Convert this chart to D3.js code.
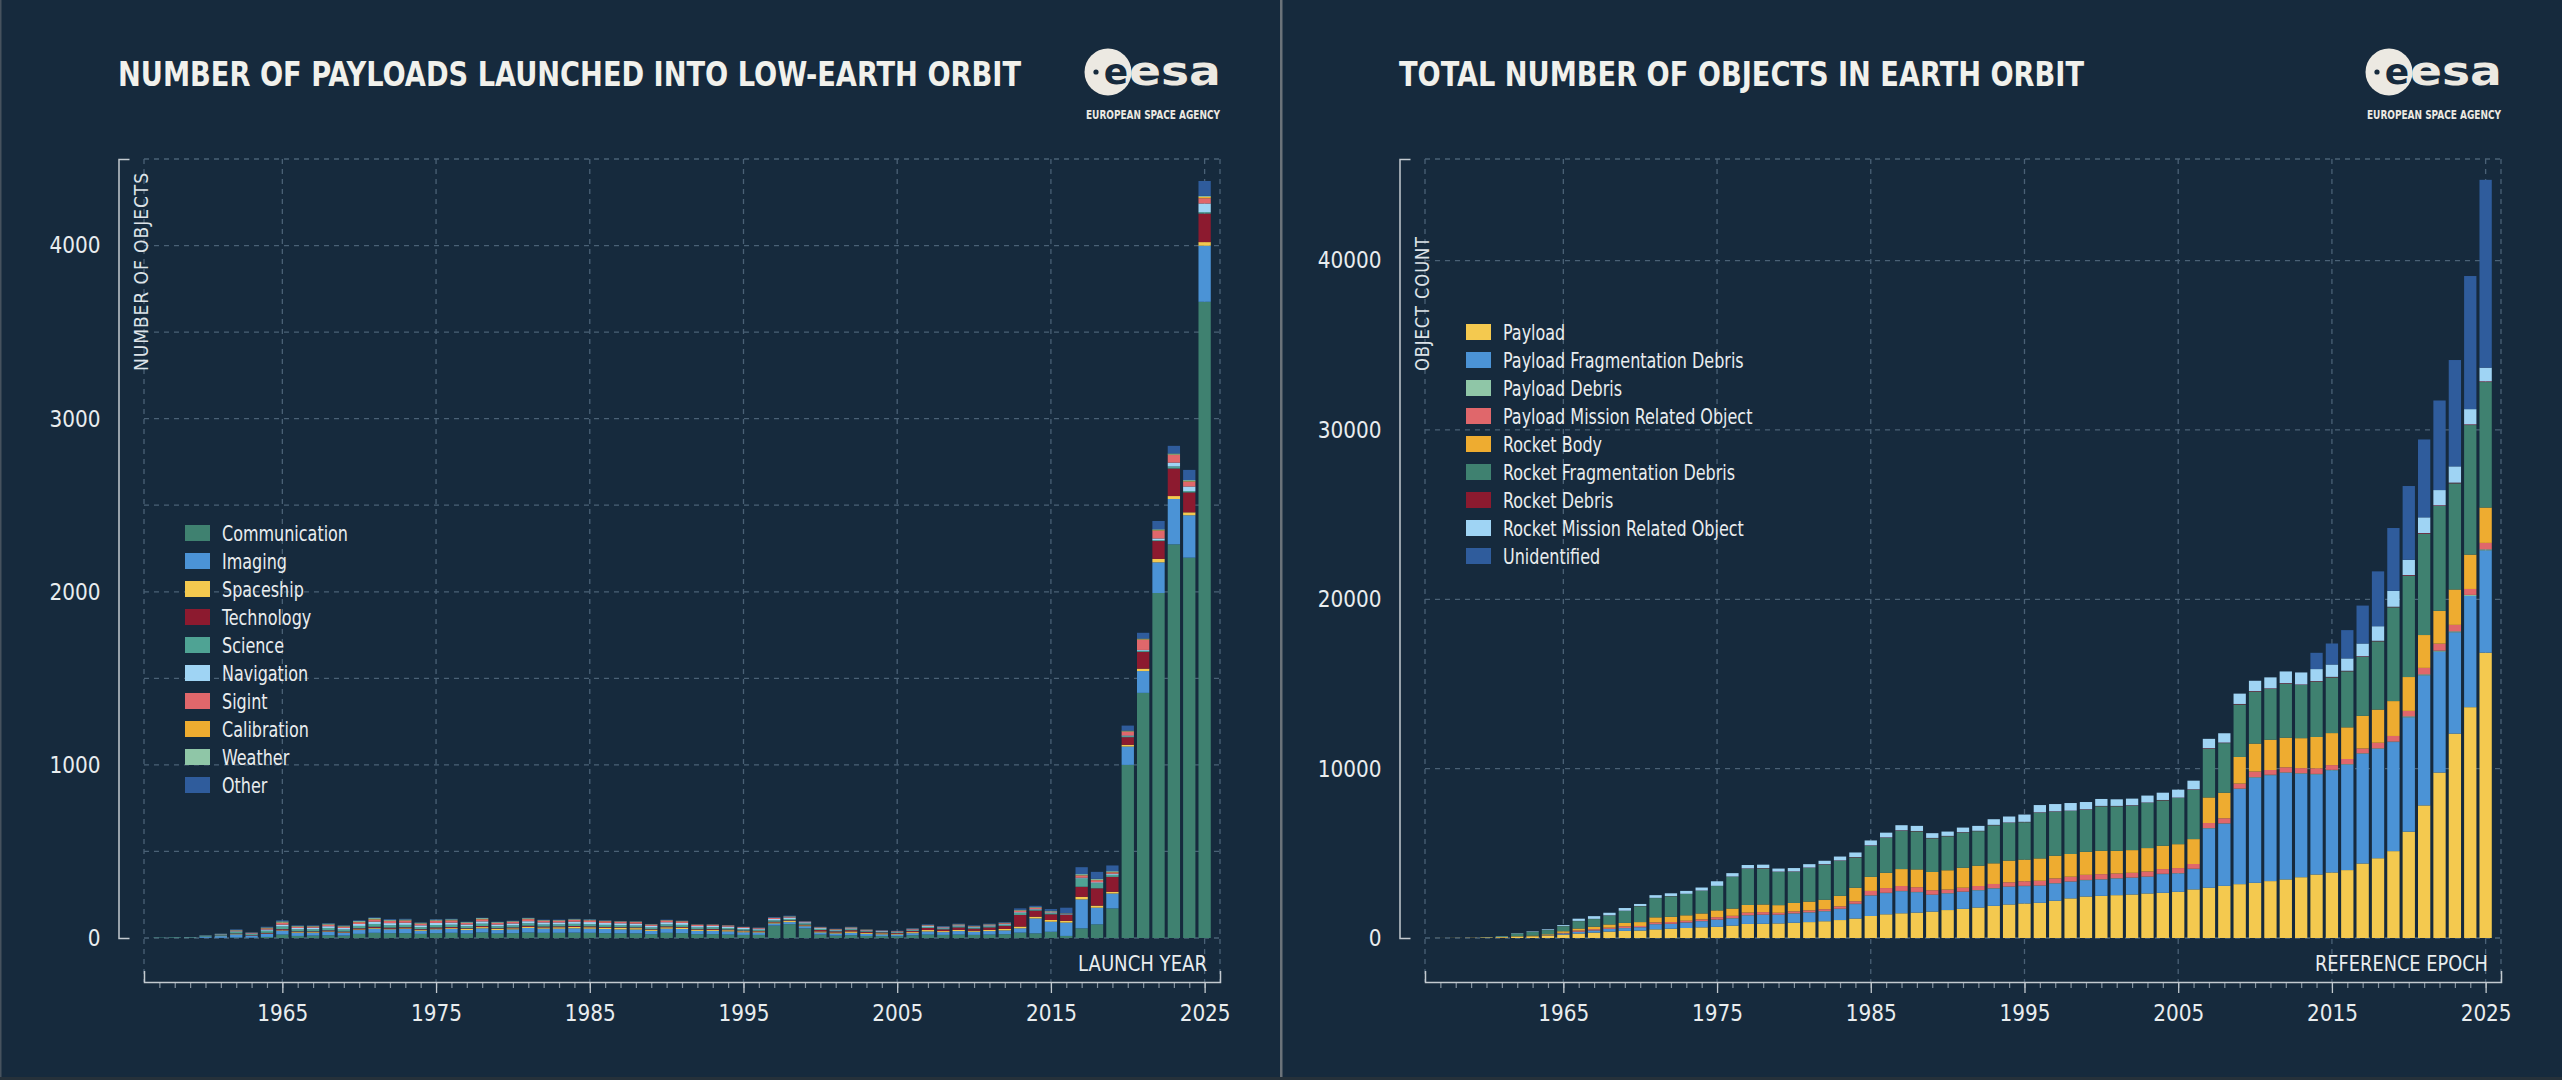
<!DOCTYPE html>
<html>
<head>
<meta charset="utf-8">
<script src="https://cdn.jsdelivr.net/npm/d3@7"></script>
<style>
  html, body { margin: 0; padding: 0; background: #162a3d; }
  svg { display: block; }
</style>
</head>
<body>
<svg id="chart" width="2562" height="1080"></svg>
<script>
var width = 2562;
var height = 1080;
var panelWidth = 1281;

var years = d3.range(1957, 2026);
var yearTicks = [1965, 1975, 1985, 1995, 2005, 2015, 2025];

// left chart: payloads launched into LEO, by purpose
var payloadKeys = ["Communication", "Imaging", "Spaceship", "Technology", "Science",
  "Navigation", "Sigint", "Calibration", "Weather", "Other"];
var communication = [0,0,0,1,1,3,2,6,20,12, 14,16,14,24,30,28,28,24,28,30,
  26,32,26,28,32,30,30,31,30,28, 27,27,22,30,28,22,22,20,18,18,
  72,80,56,20,14,16,12,11,10,16, 20,18,20,18,20,22,31,27,36,12,
  56,79,171,1000,1416,1993,2274,2197,3675];
var imaging = [0,0,1,5,10,18,12,18,22,18, 16,20,16,22,24,22,24,18,22,22,
  20,24,20,22,26,24,24,25,24,24, 23,22,19,24,24,19,19,18,15,14,
  12,12,12,12,12,14,12,10,10,12, 18,16,20,18,20,22,25,86,58,77,
  167,96,86,106,126,177,262,245,324];
var spaceship = [0,0,0,0,1,2,1,2,3,4, 4,3,3,4,5,4,4,5,5,5,
  6,7,6,6,7,7,8,8,8,8, 8,8,7,8,8,7,7,7,6,6,
  6,6,5,6,6,8,6,6,5,6, 8,6,7,6,7,8,10,10,10,10,
  15,12,10,10,14,20,17,17,21];
var technology = [0,0,0,1,2,3,2,4,6,4, 4,5,4,6,6,6,6,4,6,6,
  4,6,4,5,6,5,5,5,5,4, 4,4,3,5,4,3,4,4,4,3,
  4,4,4,8,6,7,6,5,4,6, 12,10,14,12,14,18,67,35,33,35,
  58,100,86,44,97,103,159,115,165];
var science = [2,3,2,4,6,10,6,12,16,12, 12,14,12,14,16,14,14,12,14,14,
  12,14,12,12,14,12,12,13,13,12, 12,11,10,12,12,10,10,9,8,7,
  8,8,8,6,5,6,4,4,4,5, 6,6,7,6,7,7,12,6,7,2,
  48,30,12,6,6,5,12,8,8];
var navigation = [0,0,0,1,2,3,3,7,10,8, 9,10,9,11,13,12,12,10,12,12,
  10,13,10,11,12,12,11,12,12,11, 11,11,9,12,11,8,8,8,7,6,
  8,8,6,5,4,5,4,4,3,4, 5,5,5,4,5,5,4,3,4,2,
  4,5,6,4,5,10,22,26,50];
var sigint = [0,0,0,0,1,4,3,6,10,6, 6,8,7,10,12,12,12,9,12,12,
  9,12,9,10,12,10,10,11,10,10, 9,9,7,10,9,7,6,6,5,4,
  6,5,4,4,3,4,3,3,3,3, 4,3,4,3,4,4,8,7,4,2,
  13,12,8,22,59,45,44,28,30];
var calibration = [0,0,0,0,0,1,1,2,3,2, 2,2,2,2,3,2,2,2,2,2,
  1,2,1,1,2,1,1,1,1,1, 1,1,1,1,1,1,1,1,0,0,
  0,0,0,1,1,1,1,0,0,0, 1,0,1,1,1,1,2,2,1,1,
  2,2,2,2,3,3,3,3,8];
var weather = [0,0,1,2,1,3,1,4,6,4, 3,5,4,5,6,5,5,4,5,5,
  4,5,4,3,4,3,3,3,3,2, 2,2,2,2,2,1,1,1,1,1,
  2,3,1,1,1,2,1,1,1,2, 2,2,2,2,2,2,4,3,4,2,
  6,6,5,4,4,5,6,6,6];
var other = [0,0,0,1,1,3,2,4,6,3, 3,3,2,4,4,4,4,2,3,3,
  2,2,2,2,2,2,2,2,2,2, 1,1,1,2,1,1,1,1,1,1,
  3,3,2,2,2,2,1,2,2,2, 3,3,3,3,3,3,8,7,10,32,
  40,40,33,29,33,48,44,59,86];
var payloadYTicks = [0, 1000, 2000, 3000, 4000];
var payloadGrid = [0, 500, 1000, 1500, 2000, 2500, 3000, 3500, 4000, 4500];
var payloadColors = ["#3f8170", "#4b93d6", "#f4c94f", "#8c1a2f", "#4fa394",
  "#9fd4f4", "#e0676b", "#eeac30", "#8fc6a7", "#2f5c9c"];

// right chart: objects in Earth orbit, by object class
var objectKeys = ["Payload", "Payload Fragmentation Debris", "Payload Debris",
  "Payload Mission Related Object", "Rocket Body", "Rocket Fragmentation Debris",
  "Rocket Debris", "Rocket Mission Related Object", "Unidentified"];
var payloadCount = [2,5,10,25,40,60,90,130,200,260, 320,380,420,440,510,550,590,630,660,730,
  830,840,860,900,940,990,1060,1150,1300,1400, 1460,1500,1560,1650,1720,1800,1900,1980,2040,2080,
  2200,2340,2450,2490,2530,2570,2630,2670,2730,2870, 2970,3080,3180,3260,3360,3460,3590,3750,3870,4010,
  4400,4710,5130,6280,7830,9770,12070,13630,16850];
var payloadFragDebris = [0,0,0,0,0,0,0,20,60,100, 120,150,160,190,300,280,320,360,420,420,
  500,520,500,540,560,580,650,850,1200,1250, 1300,1200,980,980,1000,1010,1020,1040,1020,1000,
  1020,980,960,960,980,980,980,1100,1080,1200, 3500,3670,5620,6210,6250,6290,6110,5910,6030,6230,
  6480,6460,6440,6750,7680,7140,5980,6570,6040];
var payloadDebris = [0,0,0,0,0,0,0,0,10,10, 10,10,10,10,10,10,10,10,10,20,
  20,20,20,20,20,20,20,20,20,20, 20,20,20,20,20,20,20,20,20,20,
  20,20,20,20,20,20,20,20,20,20, 20,20,20,30,30,30,30,30,30,30,
  30,30,30,60,60,60,60,60,60];
var payloadMissionObj = [0,0,0,0,0,0,0,10,30,70, 70,70,100,70,100,100,100,100,140,140,
  150,150,110,110,110,110,140,150,260,280, 290,280,260,210,230,240,250,250,270,280,
  280,280,300,300,280,280,300,280,300,280, 300,300,300,330,280,300,300,330,280,300,
  280,330,330,320,380,410,380,350,380];
var rocketBody = [1,2,3,15,20,40,50,60,100,120, 150,190,200,230,300,310,320,350,400,430,
  450,450,450,500,520,560,620,800,830,900, 1000,1050,1080,1140,1180,1200,1220,1280,1280,1320,
  1340,1340,1360,1380,1340,1340,1380,1380,1410,1470, 1510,1510,1570,1650,1790,1750,1770,1850,1890,1870,
  1930,1960,2060,2000,1940,1940,2090,2030,2090];
var rocketFragDebris = [0,0,0,10,45,170,220,250,300,440, 450,530,710,940,1140,1220,1260,1340,1440,1880,
  2140,2130,1960,1840,1990,2080,2070,1790,1840,2070, 2270,2250,1990,2010,2080,2040,2250,2230,2210,2700,
  2600,2540,2490,2630,2630,2630,2670,2680,2730,2920, 2880,2930,3100,3070,3000,3190,3140,3270,3290,3310,
  3490,4030,5540,5980,5980,6190,6270,7650,7410];
var rocketDebris = [0,0,0,0,0,5,5,5,5,10, 10,10,10,10,10,10,10,10,10,10,
  20,20,20,20,20,20,20,20,20,20, 20,20,20,20,20,20,20,20,20,20,
  20,20,20,20,20,20,20,20,20,20, 30,30,30,30,30,30,30,30,30,30,
  30,30,30,40,40,40,40,40,40];
var rocketMissionObj = [0,0,0,5,10,20,30,40,56,130, 160,150,160,120,160,160,170,180,270,200,
  200,200,180,200,200,200,230,270,290,280, 300,300,280,255,270,290,334,354,430,430,
  430,450,430,410,390,390,410,430,470,510, 550,550,610,610,650,690,710,710,730,730,
  750,860,940,900,930,900,960,900,810];
var unidentified = [0,0,0,0,0,0,0,0,0,0, 0,0,0,0,0,0,0,0,0,0,
  0,0,0,0,0,0,0,0,0,0, 0,0,0,0,0,0,0,0,0,0,
  0,0,0,0,0,0,0,0,0,0, 0,0,0,0,0,0,0,960,1240,1670,
  2240,3240,3710,4360,4600,5290,6280,7860,11090];
var objectYTicks = [0, 10000, 20000, 30000, 40000];
var objectGrid = [0, 10000, 20000, 30000, 40000, 46000];
var objectColors = ["#f4c94f", "#4b93d6", "#8fc6a7", "#e0676b", "#eeac30",
  "#3f8170", "#8c1a2f", "#9fd4f4", "#2f5c9c"];

var plotLeft = 144;
var plotRight = 1220;
var plotTop = 159;
var plotBottom = 938;
var axisY = 982;
var axisX = 118.5;

var condensed = '"DejaVu Sans Condensed", "Liberation Sans Narrow", "DejaVu Sans", sans-serif';
var textColor = "#e9edef";
var axisColor = "#c3cad0";
var gridColor = "#4a6176";

var svg = d3.select("#chart");

function buildRows(keys, series) {
  return years.map((yr, i) => {
    const row = { year: yr };
    keys.forEach((k, j) => (row[k] = series[j][i]));
    return row;
  });
}

// the ESA font is narrower than anything installed, so squeeze to a measured width
function squeezeFactor(sample, size, target) {
  const t = svg.append("text")
    .style("font-family", condensed)
    .style("font-size", size)
    .text(sample);
  const w = t.node().getComputedTextLength();
  t.remove();
  return w > 0 ? Math.min(1, target / w) : 1;
}

function squeeze(selection, factor) {
  selection.each(function () {
    const len = this.getComputedTextLength();
    d3.select(this)
      .attr("textLength", len * factor)
      .attr("lengthAdjust", "spacingAndGlyphs");
  });
}

function drawLogo(g) {
  const logo = g.append("g");
  logo.append("circle").attr("cx", 1108).attr("cy", 72).attr("r", 23.5).attr("fill", "#ece9e2");
  logo.append("circle").attr("cx", 1096).attr("cy", 72).attr("r", 2.6).attr("fill", "#162a3d");
  logo.append("text")
    .attr("x", 1116).attr("y", 84)
    .attr("text-anchor", "middle")
    .style("font-family", '"DejaVu Sans", sans-serif')
    .style("font-weight", "bold")
    .style("font-size", "36px")
    .attr("fill", "#162a3d")
    .text("e");
  logo.append("text")
    .attr("x", 1129).attr("y", 85)
    .attr("textLength", 92).attr("lengthAdjust", "spacingAndGlyphs")
    .style("font-family", '"DejaVu Sans", sans-serif')
    .style("font-weight", "bold")
    .style("font-size", "41px")
    .attr("fill", "#ece9e2")
    .text("esa");
  logo.append("text")
    .attr("x", 1086).attr("y", 119)
    .attr("textLength", 134).attr("lengthAdjust", "spacingAndGlyphs")
    .style("font-family", condensed)
    .style("font-weight", "bold")
    .style("font-size", "12.5px")
    .attr("fill", "#ece9e2")
    .text("EUROPEAN SPACE AGENCY");
}

function drawPanel(opts) {
  const g = svg.append("g").attr("transform", `translate(${opts.ox},0)`);

  const x = d3.scaleLinear().domain([1956, 2026]).range([plotLeft, plotRight]);
  const y = d3.scaleLinear().domain([0, opts.yMax]).range([plotBottom, plotTop]);
  const barWidth = (x(1957) - x(1956)) * 0.8;

  // dashed grid
  const grid = g.append("g")
    .attr("stroke", gridColor)
    .attr("stroke-width", 1.3)
    .attr("stroke-dasharray", "5,5");

  grid.selectAll("line.h")
    .data(opts.yGrid)
    .enter()
    .append("line")
    .attr("class", "h")
    .attr("x1", plotLeft)
    .attr("x2", plotRight)
    .attr("y1", (d) => y(d))
    .attr("y2", (d) => y(d));

  grid.selectAll("line.v")
    .data([1956].concat(yearTicks, [2026]))
    .enter()
    .append("line")
    .attr("class", "v")
    .attr("x1", (d) => x(d))
    .attr("x2", (d) => x(d))
    .attr("y1", plotTop)
    .attr("y2", axisY);

  // stacked bars
  const stacked = d3.stack().keys(opts.keys)(opts.rows);

  g.append("g")
    .selectAll("g")
    .data(stacked)
    .enter()
    .append("g")
    .attr("fill", (d, i) => opts.colors[i])
    .selectAll("rect")
    .data((d) => d)
    .enter()
    .append("rect")
    .attr("x", (d) => x(d.data.year) - barWidth / 2)
    .attr("width", barWidth)
    .attr("y", (d) => y(d[1]))
    .attr("height", (d) => Math.max(0, y(d[0]) - y(d[1])));

  // y axis, end ticks pointing inward
  const yAxis = g.append("g")
    .attr("transform", `translate(${axisX},0)`)
    .call(d3.axisLeft(y).tickValues(opts.yTicks).tickSize(0).tickSizeOuter(-11).tickPadding(18)
      .tickFormat(d3.format("d")));

  yAxis.select(".domain").attr("stroke", axisColor).attr("stroke-width", 1.5);
  yAxis.selectAll("text")
    .classed("tick-label", true)
    .style("font-family", condensed)
    .style("font-size", "23px")
    .attr("fill", textColor);

  g.append("text")
    .attr("transform", "translate(148,371) rotate(-90)")
    .attr("textLength", opts.yLabelLength)
    .attr("lengthAdjust", "spacingAndGlyphs")
    .style("font-family", '"DejaVu Sans", sans-serif')
    .style("font-size", "19px")
    .style("letter-spacing", "1px")
    .attr("fill", "#dde3e8")
    .text(opts.yLabel);

  // x axis: minor ticks every year, major every ten
  const minor = g.append("g")
    .attr("transform", `translate(0,${axisY})`)
    .call(d3.axisBottom(x).tickValues(years).tickSize(6).tickSizeOuter(0).tickFormat(""));
  minor.select(".domain").remove();
  minor.selectAll("line").attr("stroke", "#8593a0").attr("stroke-width", 1.2);

  const major = g.append("g")
    .attr("transform", `translate(0,${axisY})`)
    .call(d3.axisBottom(x).tickValues(yearTicks).tickSize(11).tickSizeOuter(-11).tickPadding(12)
      .tickFormat(d3.format("d")));
  major.select(".domain").attr("stroke", axisColor).attr("stroke-width", 1.5);
  major.selectAll(".tick line").attr("stroke", axisColor).attr("stroke-width", 1.3);
  major.selectAll("text")
    .classed("tick-label", true)
    .style("font-family", condensed)
    .style("font-size", "23px")
    .attr("fill", textColor);

  g.append("text")
    .attr("x", 1207)
    .attr("y", 971)
    .attr("text-anchor", "end")
    .attr("textLength", opts.xLabelLength)
    .attr("lengthAdjust", "spacingAndGlyphs")
    .style("font-family", condensed)
    .style("font-size", "21.5px")
    .attr("fill", textColor)
    .text(opts.xLabel);

  // legend
  const legend = g.append("g")
    .selectAll("g")
    .data(opts.keys)
    .enter()
    .append("g")
    .attr("transform", (d, i) => `translate(185,${opts.legendTop + i * 28})`);

  legend.append("rect")
    .attr("y", -8)
    .attr("width", 25)
    .attr("height", 16)
    .attr("fill", (d, i) => opts.colors[i]);

  legend.append("text")
    .attr("class", "legend-label")
    .attr("x", 37)
    .attr("y", 7.5)
    .style("font-family", condensed)
    .style("font-size", "21px")
    .attr("fill", textColor)
    .text((d) => d);

  // title
  g.append("text")
    .attr("x", 118)
    .attr("y", 86)
    .attr("textLength", opts.titleLength)
    .attr("lengthAdjust", "spacingAndGlyphs")
    .style("font-family", condensed)
    .style("font-weight", "bold")
    .style("font-size", "33px")
    .attr("fill", "#f1f1ec")
    .text(opts.title);

  drawLogo(g);
}

svg.append("rect").attr("width", width).attr("height", height).attr("fill", "#162a3d");

drawPanel({
  ox: 0,
  title: "NUMBER OF PAYLOADS LAUNCHED INTO LOW-EARTH ORBIT",
  titleLength: 903,
  rows: buildRows(payloadKeys, [communication, imaging, spaceship, technology, science,
    navigation, sigint, calibration, weather, other]),
  keys: payloadKeys,
  colors: payloadColors,
  yMax: 4500,
  yTicks: payloadYTicks,
  yGrid: payloadGrid,
  yLabel: "NUMBER OF OBJECTS",
  yLabelLength: 199,
  xLabel: "LAUNCH YEAR",
  xLabelLength: 129,
  legendTop: 533,
});

drawPanel({
  ox: panelWidth,
  title: "TOTAL NUMBER OF OBJECTS IN EARTH ORBIT",
  titleLength: 685,
  rows: buildRows(objectKeys, [payloadCount, payloadFragDebris, payloadDebris, payloadMissionObj,
    rocketBody, rocketFragDebris, rocketDebris, rocketMissionObj, unidentified]),
  keys: objectKeys,
  colors: objectColors,
  yMax: 46000,
  yTicks: objectYTicks,
  yGrid: objectGrid,
  yLabel: "OBJECT COUNT",
  yLabelLength: 135,
  xLabel: "REFERENCE EPOCH",
  xLabelLength: 173,
  legendTop: 332,
});

squeeze(svg.selectAll(".tick-label"), squeezeFactor("4000", "23px", 51));
squeeze(svg.selectAll(".legend-label"), squeezeFactor("Communication", "21px", 126));

// panel frame and divider
svg.append("rect").attr("x", 0).attr("y", 0).attr("width", 1.5).attr("height", height).attr("fill", "#46525e");
svg.append("rect").attr("x", 1280).attr("y", 0).attr("width", 2.5).attr("height", height).attr("fill", "#6b737a");
svg.append("rect").attr("x", 0).attr("y", 1077).attr("width", width).attr("height", 3).attr("fill", "#26313a");
</script>
</body>
</html>
